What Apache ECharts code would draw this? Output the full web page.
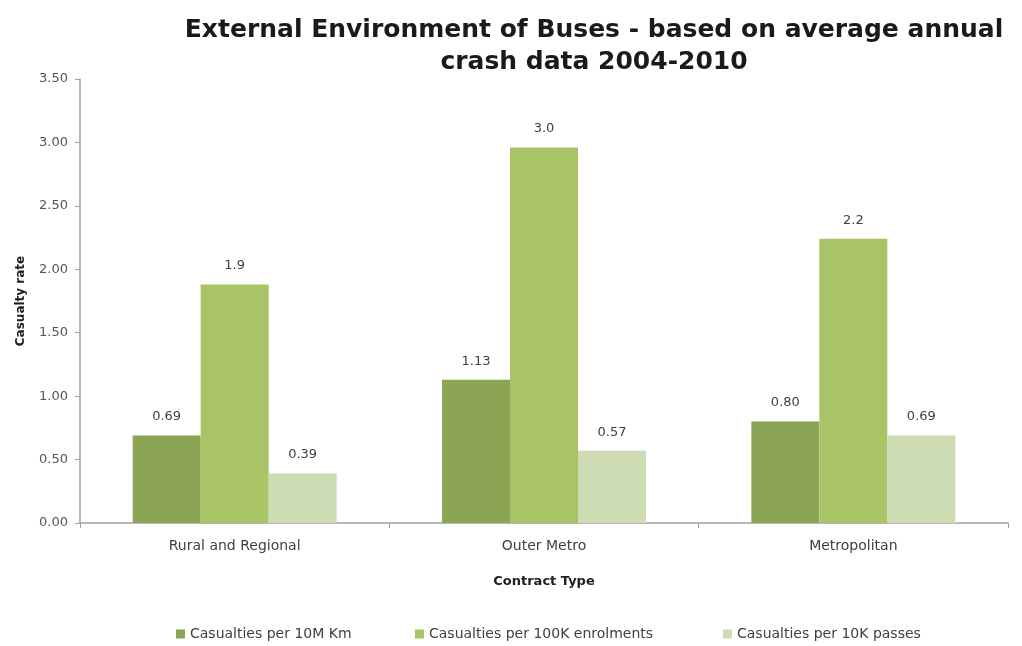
<!DOCTYPE html>
<html>
<head>
<meta charset="utf-8">
<script src="https://cdn.jsdelivr.net/npm/echarts@6/dist/echarts.min.js"></script>
<style>
  html, body { margin: 0; padding: 0; background: #ffffff; }
  #chart { width: 1022px; height: 646px; }
</style>
</head>
<body>
<div id="chart"></div>
<script>
// Contract types along the category axis
const categories = ['Rural and Regional', 'Outer Metro', 'Metropolitan'];

// Casualty rates for each contract type
const perTenMKm = [0.69, 1.13, 0.80];
const perHundredKEnrolments = [1.88, 2.96, 2.24];
const perTenKPasses = [0.39, 0.57, 0.69];

// Value axis tick range
const yMin = 0;
const yMax = 3.5;
const yStep = 0.5;

const seriesNames = [
  'Casualties per 10M Km',
  'Casualties per 100K enrolments',
  'Casualties per 10K passes'
];
const seriesColors = ['#8ca554', '#a8c466', '#cedcb4'];
const fontFamily = '"DejaVu Sans", sans-serif';

// one legend entry per series, laid out along the bottom
const legendLefts = [171, 410, 718];

function labelFor(decimals) {
  return {
    show: true,
    position: 'top',
    distance: 12,
    color: '#404040',
    fontSize: 13,
    fontFamily: fontFamily,
    formatter: p => Number(p.value).toFixed(decimals)
  };
}

const chart = echarts.init(document.getElementById('chart'));
chart.setOption({
  backgroundColor: '#ffffff',
  animation: false,
  title: {
    text: 'External Environment of Buses - based on average annual\ncrash data 2004-2010',
    left: 589,
    textAlign: 'center',
    top: 9,
    textStyle: {
      fontFamily: fontFamily,
      fontWeight: 'bold',
      fontSize: 25,
      lineHeight: 32,
      color: '#1a1a1a'
    }
  },
  legend: seriesNames.map((name, i) => ({
    bottom: 0,
    left: legendLefts[i],
    itemWidth: 9,
    itemHeight: 9,
    icon: 'rect',
    textStyle: { fontFamily: fontFamily, fontSize: 14, color: '#404040' },
    data: [name]
  })),
  grid: { left: 80, right: 14, top: 79, bottom: 123, containLabel: false },
  xAxis: {
    type: 'category',
    data: categories,
    name: 'Contract Type',
    nameLocation: 'middle',
    nameGap: 52,
    nameTextStyle: { fontFamily: fontFamily, fontWeight: 'bold', fontSize: 13, color: '#202020' },
    axisLine: { lineStyle: { color: '#a0a0a0', width: 1.5 } },
    axisTick: { show: true, alignWithLabel: false, length: 5, lineStyle: { color: '#a0a0a0' } },
    axisLabel: { fontFamily: fontFamily, fontSize: 14, color: '#404040', margin: 16 }
  },
  yAxis: {
    type: 'value',
    min: yMin,
    max: yMax,
    interval: yStep,
    name: 'Casualty rate',
    nameLocation: 'middle',
    nameRotate: 90,
    nameGap: 53,
    nameTextStyle: { fontFamily: fontFamily, fontWeight: 'bold', fontSize: 12, color: '#202020' },
    axisLine: { show: true, lineStyle: { color: '#a0a0a0', width: 1.5 } },
    axisTick: { show: true, length: 5, lineStyle: { color: '#a0a0a0' } },
    splitLine: { show: false },
    axisLabel: {
      fontFamily: fontFamily, fontSize: 13, color: '#555555', margin: 12,
      formatter: v => v.toFixed(2)
    }
  },
  series: [
    {
      name: seriesNames[0], type: 'bar', data: perTenMKm,
      barWidth: 68, barGap: '0%',
      itemStyle: { color: seriesColors[0] },
      label: labelFor(2)
    },
    {
      name: seriesNames[1], type: 'bar', data: perHundredKEnrolments,
      barWidth: 68, barGap: '0%',
      itemStyle: { color: seriesColors[1] },
      label: labelFor(1)
    },
    {
      name: seriesNames[2], type: 'bar', data: perTenKPasses,
      barWidth: 68, barGap: '0%',
      itemStyle: { color: seriesColors[2] },
      label: labelFor(2)
    }
  ]
});
</script>
</body>
</html>
